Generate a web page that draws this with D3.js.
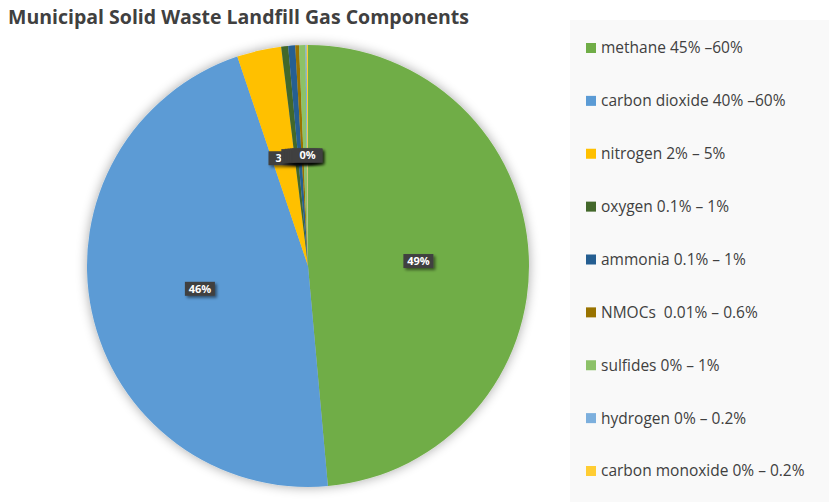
<!DOCTYPE html>
<html><head><meta charset="utf-8">
<script src="https://cdn.jsdelivr.net/npm/d3@7"></script>
<style>body{margin:0;background:#fff;overflow:hidden} text{white-space:pre}</style>
</head><body>
<svg id="c" width="829" height="502"></svg>
<script>
const categories = ["methane 45% \u201360%","carbon dioxide 40% \u201360%","nitrogen 2% \u2013 5%","oxygen 0.1% \u2013 1%","ammonia 0.1% \u2013 1%","NMOCs  0.01% \u2013 0.6%","sulfides 0% \u2013 1%","hydrogen 0% \u2013 0.2%","carbon monoxide 0% \u2013 0.2%"];
const values = [52.5, 50, 3.5, 0.55, 0.55, 0.3, 0.5, 0.1, 0.1];
const colors = ["#70AD47","#5B9BD5","#FFC000","#43682B","#255E91","#997300","#8CC168","#7CAFDD","#FFCD33"];
const title = "Municipal Solid Waste Landfill Gas Components";

const svg = d3.select("#c");
const defs = svg.append("defs");
const f = defs.append("filter").attr("id","sh").attr("x","-20%").attr("y","-20%").attr("width","140%").attr("height","140%");
f.append("feGaussianBlur").attr("in","SourceAlpha").attr("stdDeviation",6);
f.append("feOffset").attr("dx",0).attr("dy",0).attr("result","b");
f.append("feComponentTransfer").append("feFuncA").attr("type","linear").attr("slope",0.35);
const m = f.append("feMerge"); m.append("feMergeNode"); m.append("feMergeNode").attr("in","SourceGraphic");
const f2 = defs.append("filter").attr("id","ls").attr("x","-30%").attr("y","-30%").attr("width","170%").attr("height","180%");
f2.append("feGaussianBlur").attr("in","SourceAlpha").attr("stdDeviation",1.5);
f2.append("feOffset").attr("dx",2).attr("dy",2);
f2.append("feComponentTransfer").append("feFuncA").attr("type","linear").attr("slope",0.5);
const m2 = f2.append("feMerge"); m2.append("feMergeNode"); m2.append("feMergeNode").attr("in","SourceGraphic");

svg.append("text").attr("x",8).attr("y",24).attr("font-family","Open Sans").attr("font-weight","bold")
  .attr("font-size",19.5).attr("fill","#404040").text(title);

// legend panel
svg.append("rect").attr("x",570).attr("y",20).attr("width",259).attr("height",482).attr("fill","#f9f9f9");

const cx = 308, cy = 266, R = 221;
const total = d3.sum(values);
const pie = d3.pie().sort(null).value(d => d)(values);
const arc = d3.arc().innerRadius(0).outerRadius(R);
const g = svg.append("g").attr("transform",`translate(${cx},${cy})`);
g.append("g").attr("filter","url(#sh)").selectAll("path").data(pie).join("path")
  .attr("d",arc).attr("fill",(d,i)=>colors[i]);

const lab = d3.arc().innerRadius(R*0.5).outerRadius(R*0.5);
const lg = g.selectAll("g.l").data(pie).join("g").attr("class","l")
  .attr("transform",d=>`translate(${lab.centroid(d)})`);
lg.append("rect").attr("x",-15).attr("y",-7).attr("width",30).attr("height",14).attr("fill","#404040").attr("filter","url(#ls)");
lg.append("text").attr("text-anchor","middle").attr("dy","0.36em").attr("font-family","Open Sans").attr("font-weight","bold")
  .attr("font-size",11).attr("fill","#fff").text(d=>Math.round(d.value/total*100)+"%");

const ly = d3.scalePoint().domain(categories).range([48,471]);
const leg = svg.append("g").selectAll("g").data(categories).join("g")
  .attr("transform",d=>`translate(586,${ly(d)})`);
leg.append("rect").attr("x",0).attr("y",-5).attr("width",10).attr("height",10).attr("fill",(d,i)=>colors[i]);
leg.append("text").attr("x",15).attr("dy","0.35em").attr("font-family","Open Sans").attr("font-size",15.5)
  .attr("fill","#404040").text(d=>d);
</script>
</body></html>
